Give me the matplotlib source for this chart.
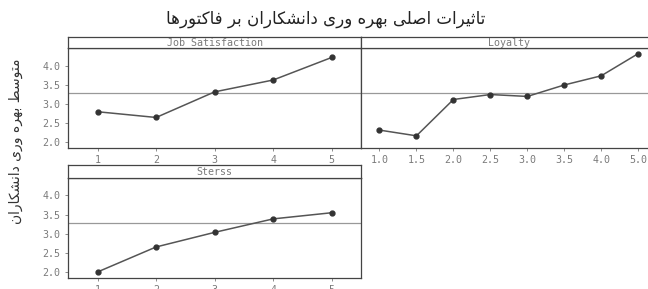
#importação
import matplotlib.pyplot as plt
import numpy as np

#dados
titulo = 'تاثیرات اصلی بهره وری دانشکاران بر فاکتورها'
rotulo_y = 'متوسط بهره وری دانشکاران'

js_x = ['1', '2', '3', '4', '5']
js_y = [2.80, 2.65, 3.32, 3.63, 4.22]

loy_x = ['1.0', '1.5', '2.0', '2.5', '3.0', '3.5', '4.0', '5.0']
loy_y = [2.32, 2.17, 3.12, 3.25, 3.20, 3.50, 3.74, 4.32]

st_x = ['1', '2', '3', '4', '5']
st_y = [2.01, 2.66, 3.04, 3.39, 3.55]

media_geral = 3.28
y_ticks = [2.0, 2.5, 3.0, 3.5, 4.0]

#formas das letras (isolada, final, inicial, medial)
formas = {
    'ا': ('\uFE8D', '\uFE8E', None, None),
    'ب': ('\uFE8F', '\uFE90', '\uFE91', '\uFE92'),
    'ت': ('\uFE95', '\uFE96', '\uFE97', '\uFE98'),
    'ث': ('\uFE99', '\uFE9A', '\uFE9B', '\uFE9C'),
    'د': ('\uFEA9', '\uFEAA', None, None),
    'ر': ('\uFEAD', '\uFEAE', None, None),
    'س': ('\uFEB1', '\uFEB2', '\uFEB3', '\uFEB4'),
    'ش': ('\uFEB5', '\uFEB6', '\uFEB7', '\uFEB8'),
    'ص': ('\uFEB9', '\uFEBA', '\uFEBB', '\uFEBC'),
    'ط': ('\uFEC1', '\uFEC2', '\uFEC3', '\uFEC4'),
    'ف': ('\uFED1', '\uFED2', '\uFED3', '\uFED4'),
    'ل': ('\uFEDD', '\uFEDE', '\uFEDF', '\uFEE0'),
    'م': ('\uFEE1', '\uFEE2', '\uFEE3', '\uFEE4'),
    'ن': ('\uFEE5', '\uFEE6', '\uFEE7', '\uFEE8'),
    'ه': ('\uFEE9', '\uFEEA', '\uFEEB', '\uFEEC'),
    'و': ('\uFEED', '\uFEEE', None, None),
    'ی': ('\uFBFC', '\uFBFD', '\uFBFE', '\uFBFF'),
    'ک': ('\uFB8E', '\uFB8F', '\uFB90', '\uFB91'),
}

def persa(texto):
    saida = []
    for i, c in enumerate(texto):
        if c not in formas:
            saida.append(c)
            continue
        ant = texto[i - 1] if i > 0 else ' '
        prox = texto[i + 1] if i < len(texto) - 1 else ' '
        liga_ant = ant in formas and formas[ant][2] is not None
        liga_prox = prox in formas and formas[c][2] is not None
        f = formas[c]
        if liga_ant and liga_prox:
            saida.append(f[3])
        elif liga_ant:
            saida.append(f[1])
        elif liga_prox:
            saida.append(f[2])
        else:
            saida.append(f[0])
    return ''.join(saida)[::-1]

cinza = '#7a7a7a'
fonte_mono = 'DejaVu Sans Mono'

fig = plt.figure(figsize=(6.48, 2.89), dpi=100)

def painel(pos, pos_faixa, x, y, nome, mostra_y):
    ax = fig.add_axes(pos)
    ax.plot(x, y, color='#555555', lw=1.1, marker='o', ms=3.5,
            mfc='#333333', mec='#333333', zorder=3)
    ax.axhline(media_geral, color='#999999', lw=0.9, zorder=2)
    ax.set_xlim(-0.5, len(x) - 0.5)
    ax.set_ylim(1.86, 4.46)
    ax.set_yticks(y_ticks)
    ax.set_yticklabels([f'{v:.1f}' for v in y_ticks])
    ax.tick_params(axis='both', direction='out', length=2.5, width=0.6,
                   color=cinza, labelcolor=cinza, labelsize=7.2, pad=3)
    for t in ax.get_xticklabels() + ax.get_yticklabels():
        t.set_family(fonte_mono)
    if not mostra_y:
        ax.tick_params(axis='y', left=False, labelleft=False)
    for s in ax.spines.values():
        s.set_color('#444444')
        s.set_linewidth(0.9)

    #faixa do titulo do painel
    fx = fig.add_axes(pos_faixa)
    fx.set_xticks([])
    fx.set_yticks([])
    for s in fx.spines.values():
        s.set_color('#444444')
        s.set_linewidth(0.9)
    fx.text(0.5, 0.45, nome, ha='center', va='center', fontsize=7.2,
            color=cinza, family=fonte_mono, transform=fx.transAxes)
    return ax

#graficos
painel([0.1054, 0.489, 0.4517, 0.344], [0.1054, 0.833, 0.4517, 0.040],
       js_x, js_y, 'Job Satisfaction', True)
painel([0.5571, 0.489, 0.4563, 0.344], [0.5571, 0.833, 0.4563, 0.040],
       loy_x, loy_y, 'Loyalty', False)
painel([0.1054, 0.039, 0.4517, 0.346], [0.1054, 0.385, 0.4517, 0.044],
       st_x, st_y, 'Sterss', True)

fig.text(0.503, 0.934, persa(titulo), ha='center', va='center',
         fontsize=12, family='DejaVu Sans', color='#222222')
fig.text(0.024, 0.51, persa(rotulo_y), ha='center', va='center',
         rotation=90, fontsize=10, family='DejaVu Sans', color='#333333')

plt.savefig('out.png', dpi=100)
